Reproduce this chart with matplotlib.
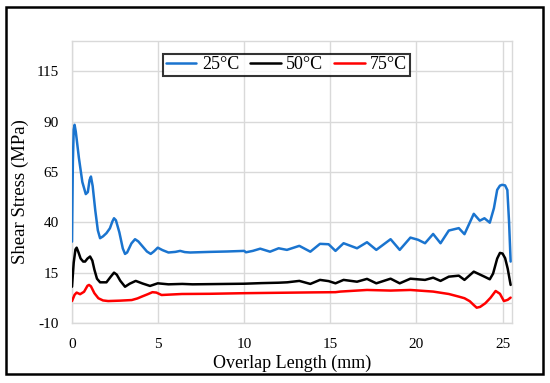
import matplotlib
matplotlib.use("Agg")
import matplotlib.pyplot as plt
from matplotlib.patches import Rectangle

plt.rcParams['font.family'] = ['Liberation Serif', 'DejaVu Serif']
plt.rcParams['axes.unicode_minus'] = False

# ---- data ----
x_25 = [0, 0.05, 0.1, 0.15, 0.22, 0.4, 0.6, 0.8, 0.92, 1.02, 1.1, 1.2, 1.35, 1.5, 1.63,
        1.8, 2.0, 2.2, 2.35, 2.44, 2.55, 2.75, 2.95, 3.08, 3.2, 3.45, 3.66, 3.85, 4.1,
        4.35, 4.57, 4.75, 4.98, 5.25, 5.6, 6.0, 6.28, 6.55, 6.86, 8, 9, 10, 10.1, 10.5, 10.93,
        11.5, 12, 12.48, 13.2, 13.84, 14.4, 14.9, 15.3, 15.77, 16.55, 17.13, 17.67, 18.5,
        19.03, 19.65, 20.1, 20.5, 20.97, 21.4, 21.88, 22.46, 22.79, 23.33, 23.68, 23.95,
        24.26, 24.5, 24.69, 24.85, 24.98, 25.15, 25.28, 25.38, 25.47]
y_25 = [30.4, 70, 86, 88.4, 85, 72, 60, 54, 55, 61, 62.7, 58, 46, 36, 32.1,
        33, 34.6, 37, 40.5, 42, 41, 35, 27, 24.3, 25, 29.5, 31.6, 30.5, 28,
        25.5, 24.3, 25.5, 27.4, 26.2, 25, 25.3, 25.8, 25.2, 25, 25.3, 25.5, 25.8, 25.1, 25.8,
        26.9, 25.4, 27.1, 26.3, 28.3, 25.4, 29.3, 29.1, 25.8, 29.6, 27.1, 30.1, 26.3, 31.6,
        26.3, 32.4, 31.3, 29.6, 34.2, 29.6, 35.9, 37.1, 34.1, 44.2, 40.8, 42,
        39.8, 47, 56.1, 58.2, 58.6, 58.3, 56, 40, 20.5]

x_50 = [0, 0.1, 0.2, 0.27, 0.38, 0.5, 0.65, 0.76, 0.9, 1.05, 1.18, 1.3, 1.45, 1.63, 2.0,
        2.25, 2.44, 2.6, 2.8, 3.08, 3.35, 3.7, 4.1, 4.53, 4.98, 5.6, 6.4, 7, 8, 9, 10, 11,
        12, 12.5, 13.2, 13.84, 14.4, 14.9, 15.3, 15.77, 16.55, 17.13, 17.67, 18.5, 19.03,
        19.65, 20.5, 20.97, 21.4, 21.88, 22.46, 22.79, 23.33, 23.95, 24.26, 24.45, 24.69,
        24.85, 25.0, 25.15, 25.3, 25.47]
y_50 = [8, 20, 26.5, 27.4, 25, 22, 20.5, 20.5, 22, 23, 21, 16.5, 12, 10.2, 10.2,
        13, 15, 14, 11, 8.0, 9.5, 10.9, 9.6, 8.4, 9.7, 9.2, 9.4, 9.2, 9.3, 9.4, 9.5, 9.8,
        10, 10.2, 10.9, 9.4, 11.4, 10.8, 9.7, 11.4, 10.5, 11.9, 9.7, 12, 9.7,
        12, 11.4, 12.5, 10.9, 13, 13.5, 11.4, 15.5, 13, 11.7, 14.5, 22,
        24.8, 24.5, 22.2, 17, 8.9]

x_75 = [0, 0.15, 0.27, 0.47, 0.7, 0.9, 0.99, 1.1, 1.3, 1.53, 1.8, 2.1, 2.8, 3.47, 3.8,
        4.05, 4.4, 4.67, 4.9, 5.2, 6.38, 8, 10, 12, 14, 15.3, 15.58, 17.13, 18.5, 19.65,
        20.97, 21.88, 22.46, 22.79, 23.1, 23.33, 23.5, 23.7, 24.0, 24.3, 24.6, 24.85,
        25.08, 25.3, 25.47]
y_75 = [0.9, 4, 5.1, 4.3, 5.5, 8.5, 8.9, 8.2, 4.8, 2.3, 1.2, 0.9, 1.1, 1.4, 2.2,
        3.1, 4.3, 5.3, 5.1, 3.9, 4.4, 4.5, 4.8, 5.0, 5.2, 5.3, 5.6, 6.4, 6.1, 6.4,
        5.6, 4.4, 3.1, 2.3, 0.8, -1.1, -2.4, -2.0, -0.2, 2.5, 5.9, 4.5,
        0.9, 1.5, 2.6]

labels = ["25°C", "50°C", "75°C"]
colors = ["#1a74cf", "#000000", "#ff0000"]
x_ticks = [0, 5, 10, 15, 20, 25]
y_ticks = [-10, 15, 40, 65, 90, 115]

fig = plt.figure(figsize=(5.5, 3.83), dpi=100)
ax = fig.add_axes([72/550, 60/383, 440/550, 282/383])

for xs, ys, lab, c in zip([x_25, x_50, x_75], [y_25, y_50, y_75], labels, colors):
    ax.plot(xs, ys, color=c, lw=1.8, label=lab, solid_joinstyle='round',
            solid_capstyle='round', zorder=3)

ax.set_xlim(0, 25.55)
ax.set_ylim(-10, 130)
ax.set_xticks(x_ticks)
ax.set_yticks(y_ticks)
ax.grid(True, color='#d9d9d9', lw=1)
ax.axhline(0, color='#d9d9d9', lw=1, zorder=1)
ax.set_axisbelow(True)
for s in ax.spines.values():
    s.set_color('#d9d9d9')
    s.set_linewidth(1)
ax.tick_params(axis='x', length=0, labelsize=11, pad=10.5)
ax.tick_params(axis='y', length=0, labelsize=11, pad=9.5)
ax.set_xlabel("Overlap Length (mm)", fontsize=13, labelpad=3)
ax.set_ylabel("Shear Stress (MPa)", fontsize=13.5)
ax.yaxis.set_label_coords(-0.097, 0.466)

leg = ax.legend(loc='center', bbox_to_anchor=(0.4875, 0.915), ncol=3, fontsize=13,
                frameon=True, fancybox=False, edgecolor='black', handlelength=1.7,
                handletextpad=0.3, columnspacing=0.6, borderpad=0.15, borderaxespad=0)
leg.get_frame().set_linewidth(1.5)

fig.patches.append(Rectangle((6/550, 1 - 374/383), 537/550, 367/383,
                             transform=fig.transFigure, fill=False,
                             edgecolor='black', lw=1.8))

fig.savefig("out.png", dpi=100)
